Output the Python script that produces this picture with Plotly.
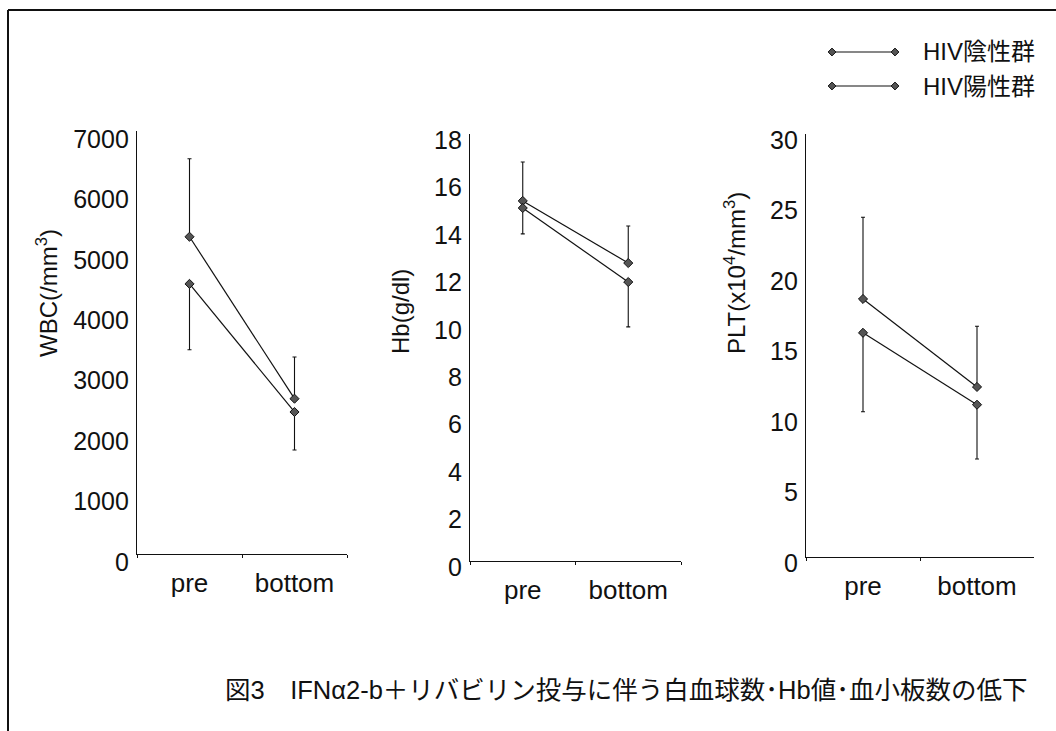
import plotly.graph_objects as go

categories = ["pre", "bottom"]
series_names = ["HIV陰性群", "HIV陽性群"]

wbc_neg = [5250, 2570]
wbc_neg_err = [1290, 690]
wbc_pos = [4470, 2350]
wbc_pos_err = [1090, 630]

hb_neg = [15.18, 12.56]
hb_neg_err = [1.64, 1.56]
hb_pos = [14.88, 11.76]
hb_pos_err = [1.09, 1.89]

plt_neg = [18.3, 12.06]
plt_neg_err = [5.8, 4.3]
plt_pos = [15.9, 10.8]
plt_pos_err = [5.6, 3.85]

y_titles = ["WBC(/mm<sup>3</sup>)", "Hb(g/dl)", "PLT(x10<sup>4</sup>/mm<sup>3</sup>)"]
y_ranges = [[0, 7000], [0, 18], [0, 30]]
y_dticks = [1000, 2, 5]
caption = "図3　IFNα2-b＋リバビリン投与に伴う白血球数･Hb値･血小板数の低下"

W, H = 1056, 731
FONT = "Liberation Sans, Arial, Noto Sans CJK JP, sans-serif"
INK = "#111111"

def px(x):
    return x / W

def py(y):
    return 1 - y / H

# panel geometry in pixels: (x0, x1, ybottom, ytop)
panels = [(137, 347, 554, 131), (470, 681, 561, 134), (806, 1034, 557, 134)]
label_shift = [8, 6, 6]
title_pos = [(47, 293), (400, 312), (735, 273)]

fig = go.Figure()

data = [
    (wbc_neg, wbc_neg_err, wbc_pos, wbc_pos_err),
    (hb_neg, hb_neg_err, hb_pos, hb_pos_err),
    (plt_neg, plt_neg_err, plt_pos, plt_pos_err),
]

marker = dict(symbol="diamond", size=7, color="#555555", line=dict(color=INK, width=1))
for i, (neg, neg_err, pos, pos_err) in enumerate(data):
    xa = "x" if i == 0 else f"x{i+1}"
    ya = "y" if i == 0 else f"y{i+1}"
    fig.add_trace(go.Scatter(
        x=categories, y=neg, mode="lines+markers", name=series_names[0],
        xaxis=xa, yaxis=ya, showlegend=False,
        line=dict(color=INK, width=1.2), marker=marker,
        error_y=dict(type="data", symmetric=False, array=neg_err, arrayminus=[0, 0],
                     color=INK, thickness=1.1, width=2),
    ))
    fig.add_trace(go.Scatter(
        x=categories, y=pos, mode="lines+markers", name=series_names[1],
        xaxis=xa, yaxis=ya, showlegend=False,
        line=dict(color=INK, width=1.2), marker=marker,
        error_y=dict(type="data", symmetric=False, array=[0, 0], arrayminus=pos_err,
                     color=INK, thickness=1.1, width=2),
    ))

layout = dict(
    template="none",
    width=W, height=H,
    margin=dict(l=0, r=0, t=0, b=0, pad=0, autoexpand=False),
    paper_bgcolor="white", plot_bgcolor="rgba(0,0,0,0)",
    font=dict(family=FONT, color=INK, size=24),
    showlegend=False,
)
for i, (x0, x1, yb, yt) in enumerate(panels):
    xk = "xaxis" if i == 0 else f"xaxis{i+1}"
    yk = "yaxis" if i == 0 else f"yaxis{i+1}"
    layout[xk] = dict(
        domain=[px(x0), px(x1)], anchor="y" if i == 0 else f"y{i+1}",
        type="category", range=[-0.5, 1.5], showline=True, linecolor=INK, linewidth=1.3,
        showgrid=False, zeroline=False, ticks="outside", ticklen=3, tickcolor=INK,
        tickson="boundaries", tickfont=dict(size=26, family=FONT, color=INK),
        ticklabelstandoff=6,
        automargin=False, fixedrange=True,
    )
    layout[yk] = dict(
        domain=[py(yb), py(yt)], anchor="x" if i == 0 else f"x{i+1}",
        range=y_ranges[i], dtick=y_dticks[i], tick0=0, showline=True, linecolor=INK,
        linewidth=1.3, showgrid=False, zeroline=False, ticks="",
        tickfont=dict(size=25, family=FONT, color=INK), ticklabelshift=label_shift[i],
        ticklabelstandoff=2,
        automargin=False, fixedrange=True,
    )

# overlay axis for legend swatches
layout["xaxis4"] = dict(domain=[0, 1], range=[0, 1], visible=False, fixedrange=True,
                        anchor="y4", automargin=False)
layout["yaxis4"] = dict(domain=[0, 1], range=[0, 1], visible=False, fixedrange=True,
                        anchor="x4", automargin=False)

fig.update_layout(**layout)

legend_rows = [52, 86]
for name, yrow in zip(series_names, legend_rows):
    fig.add_trace(go.Scatter(
        x=[px(832), px(895)], y=[py(yrow), py(yrow)], mode="lines+markers",
        xaxis="x4", yaxis="y4", showlegend=False, hoverinfo="skip",
        line=dict(color=INK, width=1.1),
        marker=dict(symbol="diamond", size=6, color="#555555", line=dict(color=INK, width=1)),
    ))
    fig.add_annotation(x=px(921), y=py(yrow), xref="paper", yref="paper", text=name,
                       showarrow=False, xanchor="left", yanchor="middle",
                       font=dict(size=24, family=FONT, color=INK))

for (tx, ty), t in zip(title_pos, y_titles):
    fig.add_annotation(x=px(tx), y=py(ty), xref="paper", yref="paper", text=t,
                       showarrow=False, textangle=-90, xanchor="center", yanchor="middle",
                       font=dict(size=24, family=FONT, color=INK))

fig.add_annotation(x=px(626), y=py(690), xref="paper", yref="paper", text=caption,
                   showarrow=False, xanchor="center", yanchor="middle",
                   font=dict(size=25.5, family=FONT, color=INK))

# frame lines
fig.add_shape(type="line", xref="paper", yref="paper", x0=px(8), x1=1, y0=py(10), y1=py(10),
              line=dict(color=INK, width=2))
fig.add_shape(type="line", xref="paper", yref="paper", x0=px(8), x1=px(8), y0=py(10), y1=0,
              line=dict(color=INK, width=2))

fig.write_html("out.html", config={"displayModeBar": False})
